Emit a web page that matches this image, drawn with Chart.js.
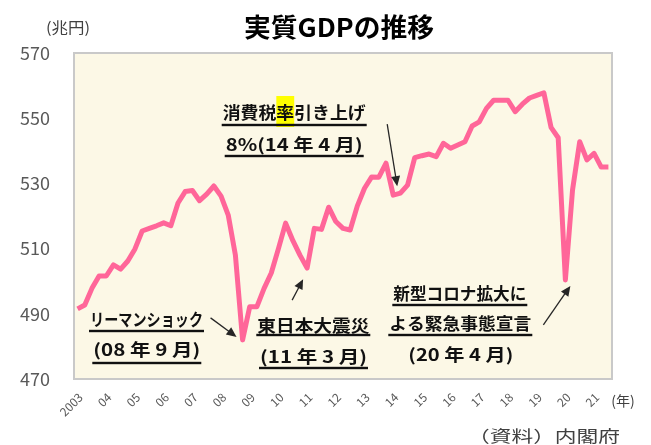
<!DOCTYPE html>
<html>
<head>
<meta charset="utf-8">
<script src="https://cdn.jsdelivr.net/npm/chart.js@4.4.1/dist/chart.umd.min.js"></script>
<style>
  html, body { margin: 0; padding: 0; background: #fff; }
  #wrap { width: 651px; height: 445px; }
</style>
</head>
<body>
<div id="wrap"><canvas id="chart" width="651" height="445"></canvas></div>
<script>
// quarterly real GDP (trillion yen, annualised)
const quarters = [
  "2003Q1","2003Q2","2003Q3","2003Q4","2004Q1","2004Q2","2004Q3","2004Q4",
  "2005Q1","2005Q2","2005Q3","2005Q4","2006Q1","2006Q2","2006Q3","2006Q4",
  "2007Q1","2007Q2","2007Q3","2007Q4","2008Q1","2008Q2","2008Q3","2008Q4",
  "2009Q1","2009Q2","2009Q3","2009Q4","2010Q1","2010Q2","2010Q3","2010Q4",
  "2011Q1","2011Q2","2011Q3","2011Q4","2012Q1","2012Q2","2012Q3","2012Q4",
  "2013Q1","2013Q2","2013Q3","2013Q4","2014Q1","2014Q2","2014Q3","2014Q4",
  "2015Q1","2015Q2","2015Q3","2015Q4","2016Q1","2016Q2","2016Q3","2016Q4",
  "2017Q1","2017Q2","2017Q3","2017Q4","2018Q1","2018Q2","2018Q3","2018Q4",
  "2019Q1","2019Q2","2019Q3","2019Q4","2020Q1","2020Q2","2020Q3","2020Q4",
  "2021Q1","2021Q2","2021Q3"
];
const gdp = [
  491.5, 492.7, 497.8, 501.6, 501.6, 505.0, 503.7, 506.2,
  509.9, 515.4, 516.2, 517.0, 517.9, 517.0, 524.0, 527.5,
  527.8, 524.7, 526.7, 529.2, 526.1, 520.3, 508.0, 482.0,
  492.2, 492.2, 497.8, 502.5, 510.0, 517.8, 512.5, 508.0,
  504.0, 516.2, 515.9, 522.7, 518.3, 516.2, 515.7, 523.1,
  528.5, 532.0, 531.9, 536.2, 526.4, 527.0, 529.5, 537.9,
  538.5, 539.0, 538.2, 542.3, 540.8, 541.8, 542.8, 547.6,
  548.9, 553.0, 555.5, 555.5, 555.5, 552.0, 554.3, 556.2,
  557.0, 557.8, 547.2, 544.0, 500.4, 528.0, 542.8, 537.2,
  539.2, 535.0, 535.0
];
const yearLabels = ["2003","04","05","06","07","08","09","10","11","12",
                    "13","14","15","16","17","18","19","20","21"];

const FONT = '"Noto Sans CJK JP", "Noto Sans", sans-serif';

// notes: text lines and an arrow pointing at a dip of the line
const notes = [
  { lines: [
      { t: "消費税率引き上げ", x: 222.7, y: 113, w: 143, u: 125, mark: 3 },
      { t: "8%(14 年 4 月)", x: 225.7, y: 145, w: 137, u: 156 }
    ], at: "2014Q1", tip: [4, -9], tail: [-6, -71] },
  { lines: [
      { t: "リーマンショック", x: 90, y: 319.5, w: 113, u: 331 },
      { t: "(08 年 9 月)", x: 93.3, y: 350, w: 107, u: 363 }
    ], at: "2008Q4", tip: [-6, -3], tail: [-32, -22] },
  { lines: [
      { t: "東日本大震災", x: 257.3, y: 325.5, w: 112, u: 335 },
      { t: "(11 年 3 月)", x: 260, y: 356.5, w: 107, u: 368 }
    ], at: "2011Q1", tip: [-4, 11], tail: [-15, 32] },
  { lines: [
      { t: "新型コロナ拡大に", x: 393.3, y: 293.5, w: 133, u: 305 },
      { t: "よる緊急事態宣言", x: 389.3, y: 324, w: 142, u: 335 },
      { t: "(20 年 4 月)", x: 408.3, y: 355, w: 105 }
    ], at: "2020Q1", tip: [5, 6], tail: [-22, 45] }
];

// draw text scaled horizontally to width w
function fitted(ctx, text, x, y, w) {
  const s = w / ctx.measureText(text).width;
  ctx.save();
  ctx.translate(x, y);
  ctx.scale(s, 1);
  ctx.fillText(text, 0, 0);
  ctx.restore();
  return s;
}

function arrow(ctx, x0, y0, x1, y1) {
  const a = Math.atan2(y1 - y0, x1 - x0);
  const len = 10, half = 4.5;
  const c = Math.cos(a), s = Math.sin(a);
  ctx.save();
  ctx.strokeStyle = "#262626";
  ctx.fillStyle = "#262626";
  ctx.lineWidth = 1.3;
  ctx.beginPath();
  ctx.moveTo(x0, y0);
  ctx.lineTo(x1 - c * len * 0.8, y1 - s * len * 0.8);
  ctx.stroke();
  ctx.beginPath();
  ctx.moveTo(x1, y1);
  ctx.lineTo(x1 - c * len + s * half, y1 - s * len - c * half);
  ctx.lineTo(x1 - c * len - s * half, y1 - s * len + c * half);
  ctx.closePath();
  ctx.fill();
  ctx.restore();
}

const framePlugin = {
  id: "frame",
  beforeDraw(chart) {
    const { ctx, chartArea: a } = chart;
    ctx.save();
    ctx.fillStyle = "#fcf8e6";
    ctx.fillRect(a.left, a.top, a.right - a.left, a.bottom - a.top);
    ctx.strokeStyle = "#c9c9c9";
    ctx.lineWidth = 2;
    ctx.strokeRect(a.left, a.top, a.right - a.left, a.bottom - a.top);
    ctx.restore();
  }
};

const textPlugin = {
  id: "texts",
  afterDatasetsDraw(chart) {
    const { ctx } = chart;
    const xs = chart.scales.x, ys = chart.scales.y;
    ctx.save();
    ctx.textBaseline = "middle";

    // title and captions
    ctx.textAlign = "left";
    ctx.fillStyle = "#000";
    ctx.font = "bold 26px " + FONT;
    fitted(ctx, "実質GDPの推移", 244, 27, 190);
    ctx.fillStyle = "#404040";
    ctx.font = "15px " + FONT;
    fitted(ctx, "(兆円)", 46, 27, 44);
    ctx.textAlign = "center";
    ctx.font = "14px " + FONT;
    ctx.fillText("(年)", 623, 401);
    ctx.textAlign = "left";
    ctx.font = "16px " + FONT;
    fitted(ctx, "（資料）内閣府", 468, 436, 152);

    // notes
    ctx.font = "bold 17px " + FONT;
    for (const n of notes) {
      for (const l of n.lines) {
        const s = l.w / ctx.measureText(l.t).width;
        if (l.mark !== undefined) {
          const pre = ctx.measureText(l.t.slice(0, l.mark)).width * s;
          const cw = ctx.measureText(l.t[l.mark]).width * s;
          ctx.fillStyle = "#ffff00";
          ctx.fillRect(l.x + pre, l.y - 17, cw, 31);
        }
        ctx.fillStyle = "#111";
        fitted(ctx, l.t, l.x, l.y, l.w);
        if (l.u) ctx.fillRect(l.x - 1, l.u - 1.2, l.w + 2, 2.4);
      }
      const i = quarters.indexOf(n.at);
      const px = xs.getPixelForValue(i), py = ys.getPixelForValue(gdp[i]);
      arrow(ctx, px + n.tail[0], py + n.tail[1], px + n.tip[0], py + n.tip[1]);
    }
    ctx.restore();
  }
};

new Chart(document.getElementById("chart"), {
  type: "line",
  data: {
    labels: quarters,
    datasets: [{
      data: gdp,
      borderColor: "#ff6699",
      borderWidth: 5,
      borderJoinStyle: "round",
      pointRadius: 0,
      tension: 0,
      fill: false
    }]
  },
  options: {
    responsive: false,
    animation: false,
    devicePixelRatio: 1,
    layout: { padding: { top: 53, right: 39, left: 0, bottom: 0 } },
    plugins: { legend: { display: false }, tooltip: { enabled: false } },
    scales: {
      x: {
        offset: true,
        grid: { display: false, drawTicks: false },
        border: { display: false },
        ticks: {
          autoSkip: false,
          minRotation: 45,
          maxRotation: 45,
          padding: 11,
          labelOffset: 3,
          color: "#595959",
          font: { size: 12, family: FONT },
          callback: (v, i) => (i % 4 === 0 ? yearLabels[i / 4] : null)
        },
        afterFit: (s) => { s.height = 66; }
      },
      y: {
        min: 470,
        max: 570,
        grid: { display: false, drawTicks: false },
        border: { display: false },
        ticks: { stepSize: 20, padding: 24, color: "#595959", font: { size: 18, family: FONT } },
        afterFit: (s) => { s.width = 74; }
      }
    }
  },
  plugins: [framePlugin, textPlugin]
});
</script>
</body>
</html>
